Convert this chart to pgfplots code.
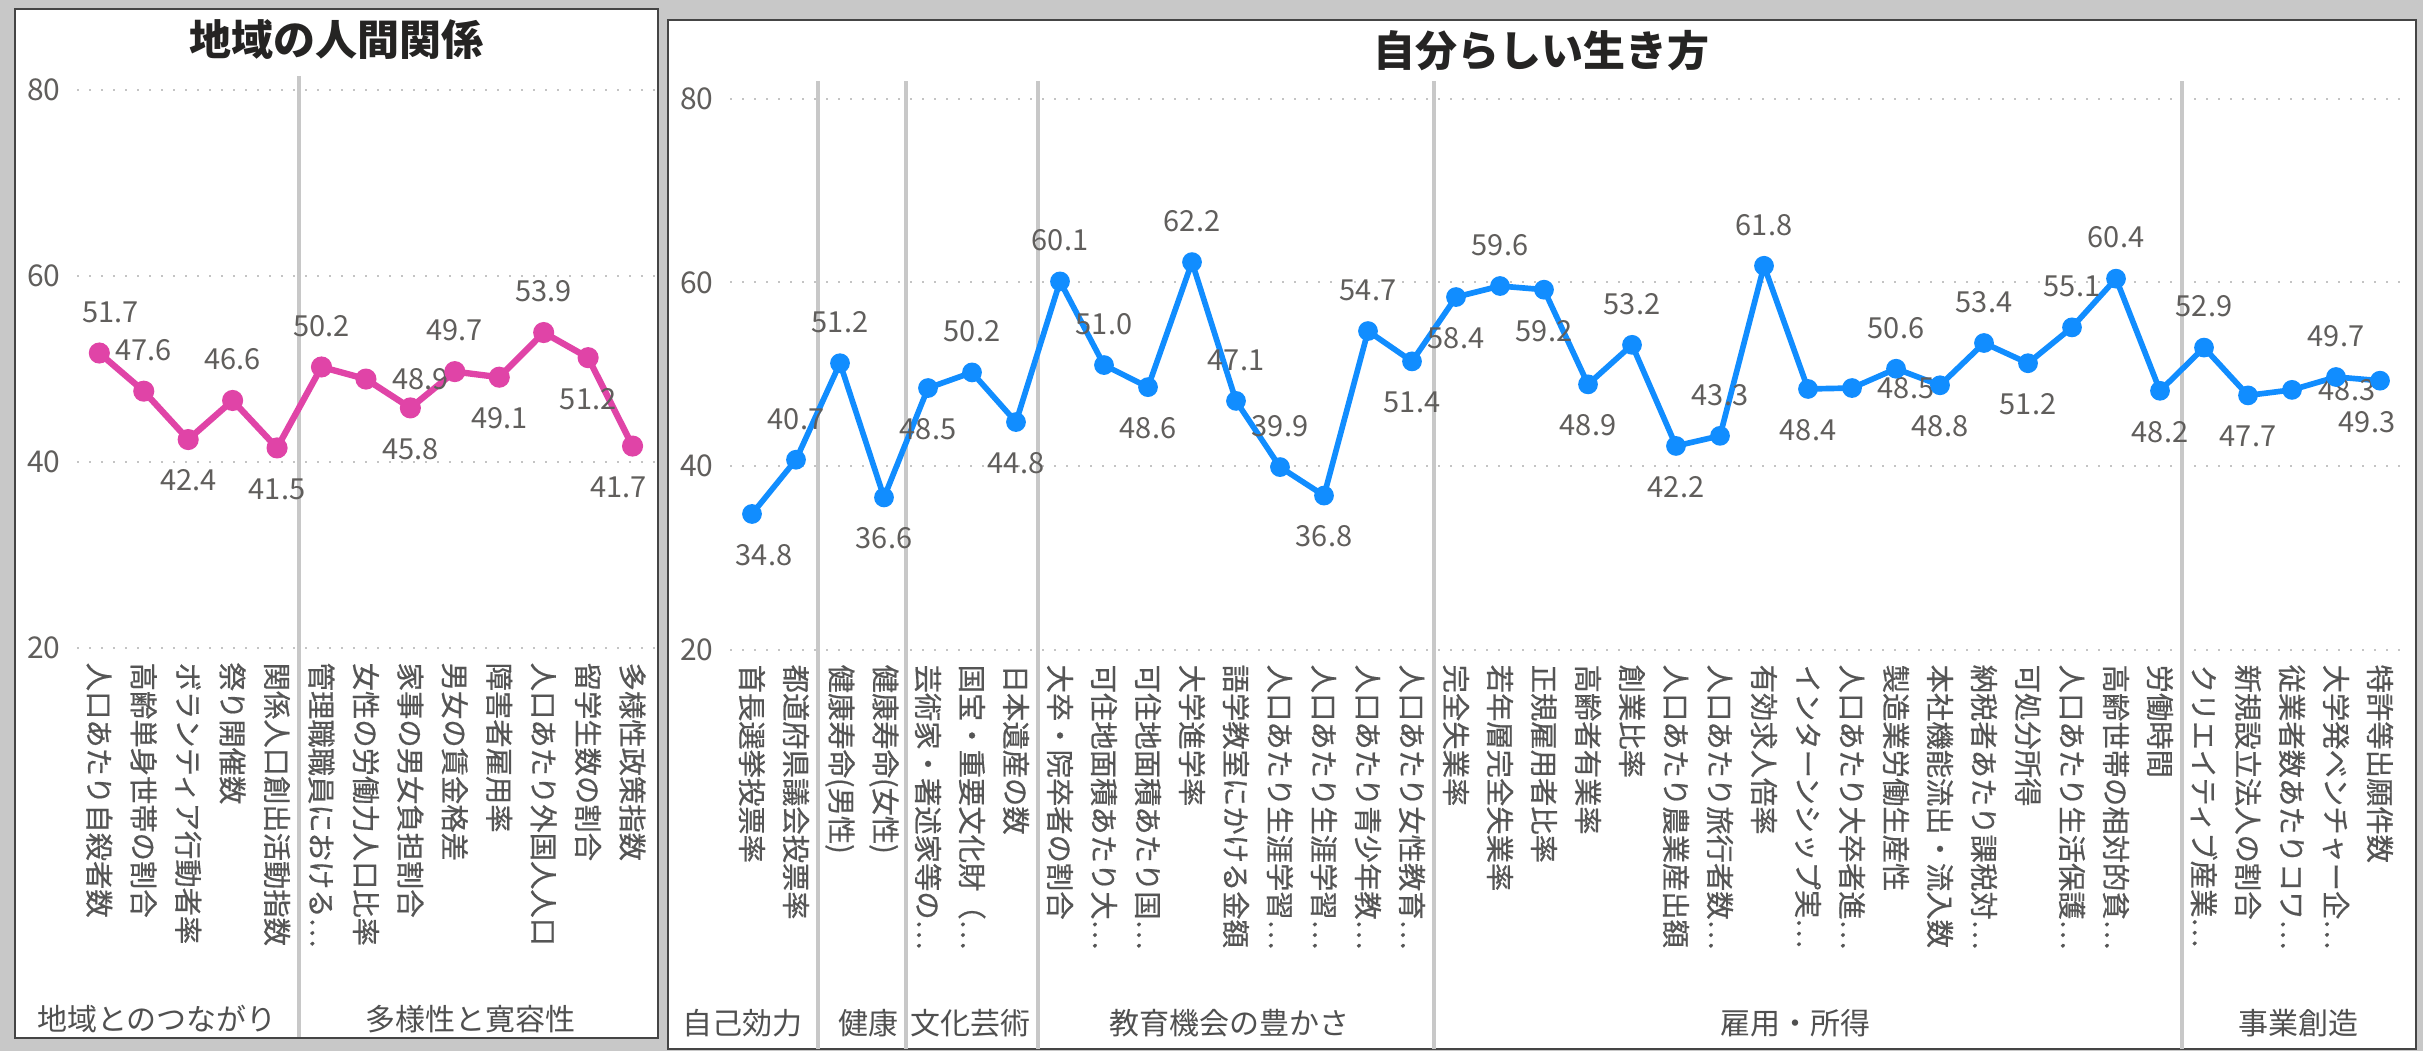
\documentclass[border=0pt]{standalone}
\usepackage{pgfplots}
\pgfplotsset{compat=1.18}
\usepackage{pgfplotstable}
\usepackage{fontspec}
\setmainfont{Noto Sans CJK JP}
\newfontfamily\tickfont{Noto Sans CJK JP}[FakeBold=0.6]
\definecolor{bg}{HTML}{C8C8C8}
\definecolor{pborder}{HTML}{454545}
\definecolor{pinkc}{HTML}{E044A7}
\definecolor{bluec}{HTML}{118DFF}
\definecolor{labc}{HTML}{605E5C}
\definecolor{tickc}{HTML}{555555}
\definecolor{gridc}{HTML}{C4C4C4}
\definecolor{sepc}{HTML}{C8C8C8}
\definecolor{titlec}{HTML}{252423}
\definecolor{groupc}{HTML}{505050}

\pgfplotstableread{
x y dx dy
0 51.7 3.3 12.3
1 47.6 0 12.3
2 42.4 0 -12.3
3 46.6 0 12.3
4 41.5 0 -12.3
5 50.2 0 12.3
6 48.9 16.4 0
7 45.8 0 -12.3
8 49.7 0 12.3
9 49.1 0 -12.3
10 53.9 0 12.3
11 51.2 0 -12.3
12 41.7 -4.2 -12.3
}\lefttable

\pgfplotstableread{
x y dx dy
0 34.8 3.6 -12.3
1 40.7 0 12.3
2 51.2 0 12.3
3 36.6 0 -12.3
4 48.5 0 -12.3
5 50.2 0 12.3
6 44.8 0 -12.3
7 60.1 0 12.3
8 51.0 0 12.3
9 48.6 0 -12.3
10 62.2 0 12.3
11 47.1 0 12.3
12 39.9 0 12.3
13 36.8 0 -12.3
14 54.7 0 12.3
15 51.4 0 -12.3
16 58.4 0 -12.3
17 59.6 0 12.3
18 59.2 0 -12.3
19 48.9 0 -12.3
20 53.2 0 12.3
21 42.2 0 -12.3
22 43.3 0 12.3
23 61.8 0 12.3
24 48.4 0 -12.3
25 48.5 16.2 0
26 50.6 0 12.3
27 48.8 0 -12.3
28 53.4 0 12.3
29 51.2 0 -12.3
30 55.1 0 12.3
31 60.4 0 12.3
32 48.2 0 -12.3
33 52.9 0 12.3
34 47.7 0 -12.3
35 48.3 16.5 0
36 49.7 0 12.3
37 49.3 -3.9 -12.3
}\righttable

\pgfplotsset{
  pbi/.style={
    scale only axis,
    clip=false,
    ymin=20, ymax=80,
    ytick={20,40,60,80},
    axis line style={draw=none},
    tick style={draw=none},
    major tick length=0pt,
    ymajorgrids,
    grid style={gridc, line width=0.6pt, dash pattern=on 0.6pt off 3pt},
    /pgf/number format/assume math mode=true,
    yticklabel style={font=\fontsize{9}{10}\selectfont, text=labc, anchor=east, inner sep=0pt},
    yticklabel shift=4.8pt,
    xticklabel style={rotate=-90, anchor=west, font=\tickfont\fontsize{8.5}{9}\selectfont, text=tickc, inner sep=0pt},
    xticklabel shift=4.2pt,
    xtick=data,
  },
  lbl/.style={
    nodes near coords={\pgfmathprintnumber[fixed,fixed zerofill,precision=1,assume math mode=true]{\pgfplotspointmeta}},
    visualization depends on={\thisrow{dx} \as \mydx},
    visualization depends on={\thisrow{dy} \as \mydy},
    every node near coord/.append style={anchor=center, xshift=\mydx pt, yshift=\mydy pt,
      font=\fontsize{8.7}{9}\selectfont, text=labc, inner sep=0pt},
  },
}

\begin{document}
\begin{tikzpicture}
\fill[bg] (0pt,0pt) rectangle (726.9pt,315.3pt);
\filldraw[fill=white, draw=pborder, line width=0.6pt] (4.5pt,3.9pt) rectangle (197.4pt,312.6pt);
\filldraw[fill=white, draw=pborder, line width=0.6pt] (200.4pt,0.6pt) rectangle (724.8pt,309.3pt);

\node[font=\fontsize{12.6}{14}\selectfont\bfseries, text=titlec] at (101pt,303.3pt) {地域の人間関係};
\node[font=\fontsize{12.6}{14}\selectfont\bfseries, text=titlec] at (462.3pt,300pt) {自分らしい生き方};

\begin{axis}[pbi,
  at={(23.13pt,120.9pt)}, anchor=south west,
  width=173.3pt, height=167.5pt,
  xmin=-0.5, xmax=12.5,
  xticklabels={{人口あたり自殺者数},{高齢単身世帯の割合},{ボランティア行動者率},{祭り開催数},{関係人口創出活動指数},{管理職職員における…},{女性の労働力人口比率},{家事の男女負担割合},{男女の賃金格差},{障害者雇用率},{人口あたり外国人人口},{留学生数の割合},{多様性政策指数}},
]
\draw[sepc, line width=1.2pt] (axis cs:4.5,81.48) -- (axis cs:4.5,-21.8);
\addplot[pinkc, line width=1.9pt, mark=*, mark size=2.2pt, mark options={solid, fill=pinkc, draw=pinkc}, lbl]
  table[x=x, y=y] \lefttable;
\end{axis}

\begin{axis}[pbi,
  at={(219pt,120.3pt)}, anchor=south west,
  width=501.6pt, height=165.45pt,
  xmin=-0.5, xmax=37.5,
  xticklabels={{首長選挙投票率},{都道府県議会投票率},{健康寿命(男性)},{健康寿命(女性)},{芸術家・著述家等の…},{国宝・重要文化財（…},{日本遺産の数},{大卒・院卒者の割合},{可住地面積あたり大…},{可住地面積あたり国…},{大学進学率},{語学教室にかける金額},{人口あたり生涯学習…},{人口あたり生涯学習…},{人口あたり青少年教…},{人口あたり女性教育…},{完全失業率},{若年層完全失業率},{正規雇用者比率},{高齢者有業率},{創業比率},{人口あたり農業産出額},{人口あたり旅行者数…},{有効求人倍率},{インターンシップ実…},{人口あたり大卒者進…},{製造業労働生産性},{本社機能流出・流入数},{納税者あたり課税対…},{可処分所得},{人口あたり生活保護…},{高齢世帯の相対的貧…},{労働時間},{クリエイティブ産業…},{新規設立法人の割合},{従業者数あたりコワ…},{大学発ベンチャー企…},{特許等出願件数}},
]
\draw[sepc, line width=1.2pt] (axis cs:1.5,81.9) -- (axis cs:1.5,-23.4);
\draw[sepc, line width=1.2pt] (axis cs:3.5,81.9) -- (axis cs:3.5,-23.4);
\draw[sepc, line width=1.2pt] (axis cs:6.5,81.9) -- (axis cs:6.5,-23.4);
\draw[sepc, line width=1.2pt] (axis cs:15.5,81.9) -- (axis cs:15.5,-23.4);
\draw[sepc, line width=1.2pt] (axis cs:32.5,81.9) -- (axis cs:32.5,-23.4);
\addplot[bluec, line width=1.7pt, mark=*, mark size=2.1pt, mark options={solid, fill=bluec, draw=bluec}, lbl]
  table[x=x, y=y] \righttable;
\end{axis}

\begin{scope}[every node/.style={font=\fontsize{9}{10}\selectfont, text=groupc, anchor=base, inner sep=0pt}]
\node at (47.1pt,6.2pt) {地域とのつながり};
\node at (141pt,6.2pt) {多様性と寛容性};
\node at (222.6pt,5pt) {自己効力};
\node at (260.4pt,5pt) {健康};
\node at (291pt,5pt) {文化芸術};
\node at (368.7pt,5pt) {教育機会の豊かさ};
\node at (538.5pt,5pt) {雇用・所得};
\node at (689.4pt,5pt) {事業創造};
\end{scope}

\pgfresetboundingbox
\useasboundingbox (0pt,0pt) rectangle (726.9pt,315.3pt);
\end{tikzpicture}
\end{document}
